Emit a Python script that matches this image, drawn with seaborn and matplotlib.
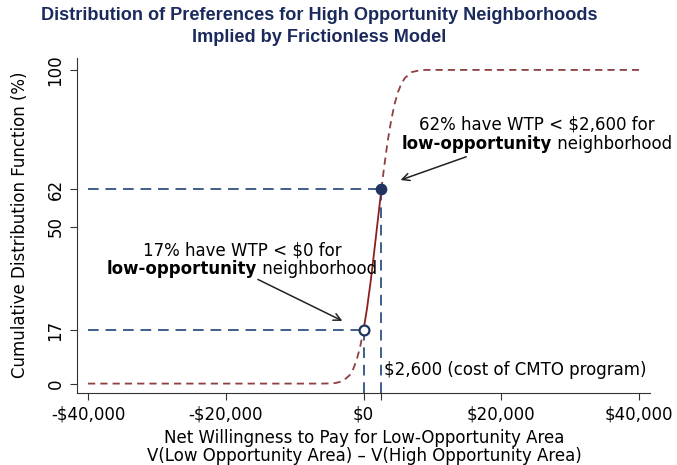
import matplotlib
matplotlib.use("Agg")
import matplotlib.pyplot as plt
import seaborn as sns
import pandas as pd

# ---- data ----
wtp = [-40000, -8000, -6000, -5000, -4000, -3000, -2000, -1500, -1000, -500,
       0, 500, 1000, 1500, 2000, 2600, 3000, 3500, 4000, 4500, 5000, 5500,
       6000, 7000, 8000, 9000, 40000]
cdf = [0.0, 0.0, 0.0, 0.05, 0.2, 0.8, 2.7, 4.6, 7.5, 11.6,
       17.0, 23.8, 31.9, 41.0, 50.6, 62.0, 69.1, 77.1, 83.7, 89.0, 92.9, 95.6,
       97.4, 99.3, 99.8, 100.0, 100.0]
cost = 2600
share_below_zero = 17
share_below_cost = 62
x_ticks = [-40000, -20000, 0, 2600, 20000, 40000]
x_tick_labels = ["-$40,000", "-$20,000", "$0", "", "$20,000", "$40,000"]
y_ticks = [0, 17, 50, 62, 100]
y_tick_labels = ["0", "17", "50", "62", "100"]

title_lines = ["Distribution of Preferences for High Opportunity Neighborhoods",
               "Implied by Frictionless Model"]
x_label = "Net Willingness to Pay for Low-Opportunity Area\nV(Low Opportunity Area) \u2013 V(High Opportunity Area)"
y_label = "Cumulative Distribution Function (%)"

# ---- style ----
sns.set_style("white")
plt.rcParams['font.family'] = ['DejaVu Sans']
plt.rcParams['text.color'] = 'black'
plt.rcParams['xtick.color'] = 'black'
plt.rcParams['ytick.color'] = 'black'

CURVE_DASH = "#8e3f3f"
CURVE_SOLID = "#8b1f1f"
REF = "#3f5e8c"
NAVY = "#1f3560"
TITLE = "#1b2a5c"
FS = 12

W, H = 677, 465
fig = plt.figure(figsize=(W / 100, H / 100), dpi=100)
L, R, T, B = 77, 650, 58, 393
ax = fig.add_axes([L / W, 1 - B / H, (R - L) / W, (B - T) / H])

df = pd.DataFrame({"wtp": wtp, "cdf": cdf})
lower = df[df.wtp <= 0]
mid = df[(df.wtp >= 0) & (df.wtp <= cost)]
upper = df[df.wtp >= cost]

ylo, yhi = -3.0, 103.8
xlo, xhi = -41600, 41600

# reference lines
ref_kw = dict(color=REF, lw=1.4, linestyle=(0, (5.5, 3.5)), zorder=2)
ax.plot([-40000, 0], [share_below_zero, share_below_zero], **ref_kw)
ax.plot([-40000, cost], [share_below_cost, share_below_cost], **ref_kw)
ax.plot([0, 0], [ylo, share_below_zero], **ref_kw)
ax.plot([cost, cost], [ylo, share_below_cost], **ref_kw)

dash_kw = dict(color=CURVE_DASH, lw=1.3, linestyle=(0, (4, 2.8)))
sns.lineplot(data=lower, x="wtp", y="cdf", ax=ax, **dash_kw, zorder=3)
sns.lineplot(data=upper, x="wtp", y="cdf", ax=ax, **dash_kw, zorder=3)
sns.lineplot(data=mid, x="wtp", y="cdf", ax=ax, color=CURVE_SOLID, lw=1.3, zorder=3)

# markers
ax.scatter([cost], [share_below_cost], s=55, color=NAVY, zorder=5, edgecolor=NAVY)
ax.scatter([0], [share_below_zero], s=50, facecolor="white", edgecolor=NAVY,
           linewidth=1.6, zorder=5)

ax.set_xlim(xlo, xhi)
ax.set_ylim(ylo, yhi)
ax.set_xticks(x_ticks)
ax.set_xticklabels(x_tick_labels, fontsize=FS)
ax.set_yticks(y_ticks)
ax.set_yticklabels(y_tick_labels, fontsize=FS, rotation=90, va="center")
ax.tick_params(axis="both", direction="out", length=5, width=0.8, color="#333333",
               bottom=True, left=True, pad=4)
for s in ["top", "right"]:
    ax.spines[s].set_visible(False)
for s in ["left", "bottom"]:
    ax.spines[s].set_color("#333333")
    ax.spines[s].set_linewidth(0.8)
ax.set_xlabel("")
ax.set_ylabel("")
ax.grid(False)

fig.text(20 / W, 1 - 225 / H, y_label, rotation=90, ha="center", va="center", fontsize=FS)
fig.text(364 / W, 1 - 447 / H, x_label, ha="center", va="center", fontsize=FS,
         linespacing=1.0)

# title
fig.text(319 / W, 1 - 16 / H, title_lines[0], ha="center", va="center",
         fontsize=13.1, fontweight="bold", color=TITLE, family="Liberation Sans")
fig.text(319 / W, 1 - 37 / H, title_lines[1], ha="center", va="center",
         fontsize=13.1, fontweight="bold", color=TITLE, family="Liberation Sans")

# annotations with mixed bold line
fig.canvas.draw()
renderer = fig.canvas.get_renderer()


def two_line(cx_px, y1_px, y2_px, line1):
    fig.text(cx_px / W, 1 - y1_px / H, line1, ha="center", va="center", fontsize=FS)
    tb = fig.text(0, 0, "low-opportunity", fontsize=FS, fontweight="bold", va="center")
    tr = fig.text(0, 0, " neighborhood", fontsize=FS, va="center")
    wb = tb.get_window_extent(renderer).width
    wr = tr.get_window_extent(renderer).width
    x0 = cx_px - (wb + wr) / 2
    tb.set_position((x0 / W, 1 - y2_px / H))
    tr.set_position(((x0 + wb) / W, 1 - y2_px / H))


two_line(537, 125, 144, "62% have WTP < $2,600 for")
two_line(242, 251, 269, "17% have WTP < $0 for")

arrow_kw = dict(arrowstyle="->", color="#222222", lw=1.1, mutation_scale=13)
ax.annotate("", xy=(5000, 64.6), xytext=(15300, 72.6), arrowprops=arrow_kw)
ax.annotate("", xy=(-2700, 19.6), xytext=(-15700, 33.6), arrowprops=arrow_kw)

ax.text(cost + 400, 4.3, "$2,600 (cost of CMTO program)", fontsize=FS,
        ha="left", va="center")

fig.savefig("out.png", dpi=100)
